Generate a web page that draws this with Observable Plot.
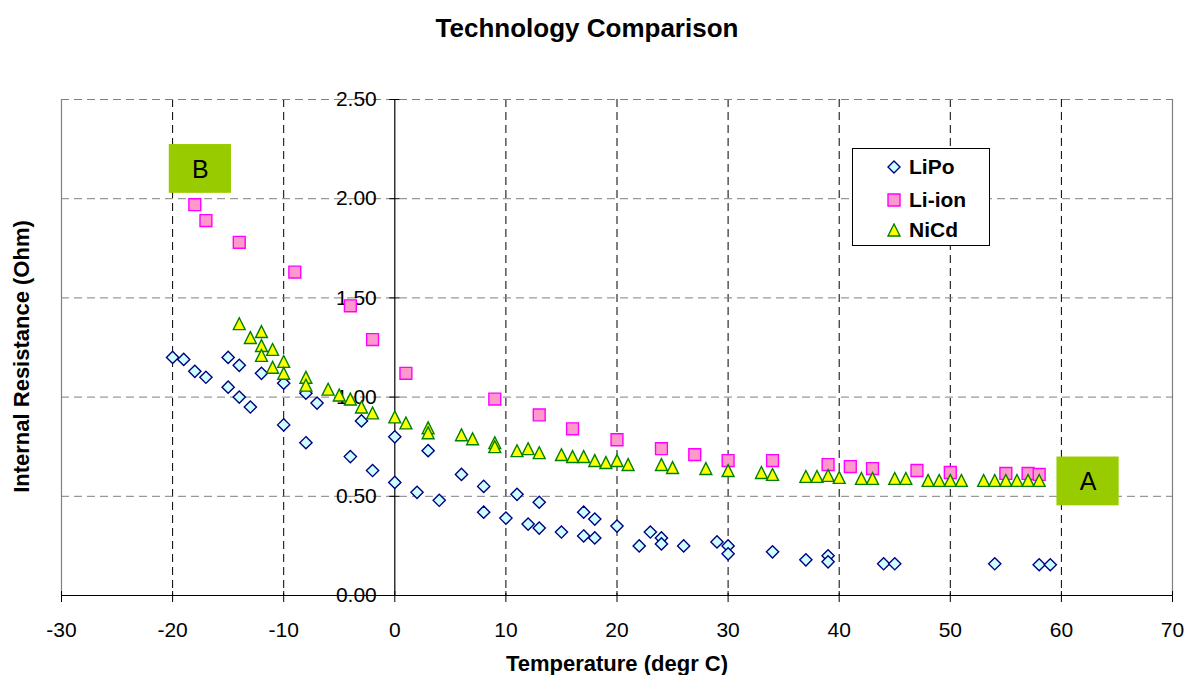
<!DOCTYPE html>
<html><head><meta charset="utf-8">
<script src="https://cdn.jsdelivr.net/npm/d3@7"></script>
<script src="https://cdn.jsdelivr.net/npm/@observablehq/plot@0.6"></script>
<style>
body{margin:0;background:#fff;font-family:"Liberation Sans",Arial,sans-serif;}
#wrap{position:relative;width:1189px;height:675px;overflow:hidden;}
#legend{position:absolute;left:852px;top:148px;width:138px;height:98px;border:1px solid #000;background:#fff;box-sizing:border-box;}
.row{position:absolute;left:0;height:30px;display:flex;align-items:center;font-weight:bold;font-size:21px;color:#000;}
.row svg{margin-left:34px;margin-right:8px;}
</style></head><body><div id="wrap"><div id="legend"></div></div>
<script>
// ---- data ----
const title = "Technology Comparison";
const xLabel = "Temperature (degr C)";
const yLabel = "Internal Resistance (Ohm)";
const seriesNames = ["LiPo", "Li-ion", "NiCd"];

const lipoTemp = [-20,-19,-18,-17,-15,-14,-15,-14,-13,-12,-10,-10,-8,-7,-8,-4,-3,-2,0,0,2,3,4,6,8,8,10,11,12,13,13,15,17,17,18,18,20,22,23,24,24,26,29,30,30,34,37,39,39,44,45,54,58,59];
const lipoOhm  = [1.20,1.19,1.13,1.10,1.20,1.16,1.05,1.00,0.95,1.12,1.07,0.86,1.02,0.97,0.77,0.70,0.88,0.63,0.80,0.57,0.52,0.73,0.48,0.61,0.55,0.42,0.39,0.51,0.36,0.47,0.34,0.32,0.42,0.30,0.385,0.29,0.35,0.25,0.32,0.29,0.26,0.25,0.27,0.25,0.21,0.22,0.18,0.20,0.17,0.16,0.16,0.16,0.155,0.155];

const lionTemp = [-18,-17,-14,-9,-4,-2,1,9,13,16,20,24,27,30,34,39,41,43,47,50,55,57,58];
const lionOhm  = [1.97,1.89,1.78,1.63,1.46,1.29,1.12,0.99,0.91,0.84,0.785,0.74,0.71,0.68,0.68,0.66,0.65,0.64,0.63,0.62,0.615,0.615,0.61];

const nicdTemp = [-14,-13,-12,-12,-11,-12,-11,-10,-10,-8,-8,-6,-5,-4,-3,-2,0,1,3,3,6,7,9,9,11,12,13,15,16,17,18,19,20,21,24,25,28,30,33,34,37,38,39,40,42,43,45,46,48,49,50,51,53,54,55,56,57,58];
const nicdOhm  = [1.37,1.30,1.33,1.26,1.24,1.21,1.15,1.18,1.12,1.10,1.06,1.04,1.01,0.99,0.95,0.92,0.90,0.87,0.845,0.82,0.81,0.79,0.77,0.75,0.73,0.74,0.72,0.71,0.70,0.70,0.68,0.67,0.68,0.66,0.66,0.645,0.64,0.63,0.62,0.61,0.60,0.60,0.605,0.595,0.59,0.59,0.59,0.59,0.58,0.58,0.58,0.58,0.58,0.58,0.58,0.58,0.58,0.58];

const xTicks = [-30,-20,-10,0,10,20,30,40,50,60,70];
const yTicks = [0,0.5,1,1.5,2,2.5];

const annoText = ["B", "A"];
const annoX = [-17.5, 62.4];
const annoY = [2.15, 0.575];

// ---- styles ----
const W = 1189, H = 675, mL = 61, mR = 17, mT = 99, mB = 80;
const styles = {
  "LiPo":   {fill: "#CCFFFF", stroke: "#000080"},
  "Li-ion": {fill: "#FF99CC", stroke: "#FF00FF"},
  "NiCd":   {fill: "#FFFF00", stroke: "#008000"}
};
const diamondSym = {draw(c, s){ const h = Math.sqrt(s)/2; c.moveTo(0,-h); c.lineTo(h,0); c.lineTo(0,h); c.lineTo(-h,0); c.closePath(); }};
const squareSym  = {draw(c, s){ const h = Math.sqrt(s)/2; c.rect(-h,-h,2*h,2*h); }};
const triSym     = {draw(c, s){ const h = Math.sqrt(s)/2; c.moveTo(0,-h); c.lineTo(h,h); c.lineTo(-h,h); c.closePath(); }};

const toRows = (xs, ys) => xs.map((x, i) => ({x, y: ys[i]}));
const lipo = toRows(lipoTemp, lipoOhm);
const lion = toRows(lionTemp, lionOhm);
const nicd = toRows(nicdTemp, nicdOhm);
const annos = annoText.map((t, i) => ({t, x: annoX[i], y: annoY[i]}));

const xDomain = [-30, 70];
const x0px = mL + (0 - xDomain[0]) / (xDomain[1] - xDomain[0]) * (W - mL - mR);
const font = "'Liberation Sans', Arial, sans-serif";

const chart = Plot.plot({
  width: W, height: H,
  marginLeft: mL, marginRight: mR, marginTop: mT, marginBottom: mB,
  style: {fontFamily: font, background: "#fff", overflow: "visible"},
  x: {domain: xDomain},
  y: {domain: [0, 2.5]},
  marks: [
    Plot.gridX(xTicks.filter(d => d > -30 && d < 70 && d !== 0), {stroke: "#000", strokeOpacity: 1, strokeDasharray: "8,5"}),
    Plot.gridY(yTicks.filter(d => d > 0), {stroke: "#808080", strokeOpacity: 1, strokeDasharray: "8,5"}),
    Plot.ruleX([xDomain[0], xDomain[1]], {stroke: "#808080", strokeWidth: 1.2}),
    Plot.ruleY([0], {stroke: "#000", strokeWidth: 1.2}),
    Plot.ruleX([0], {stroke: "#000", strokeWidth: 1.2}),
    Plot.axisX(xTicks, {tickFormat: d => String(d), tickSize: 11, dy: -4, tickPadding: 20, fontSize: 21, label: null, stroke: "#000", fill: "#000"}),
    Plot.axisY(yTicks, {tickFormat: d3.format(".2f"), tickSize: 10, dx: x0px - mL + 5, tickPadding: 13, fontSize: 21, label: null, stroke: "#000", fill: "#000"}),
    Plot.dot(lipo, {x: "x", y: "y", symbol: diamondSym, r: 6.9, fill: styles["LiPo"].fill, stroke: styles["LiPo"].stroke, strokeWidth: 1.4}),
    Plot.dot(lion, {x: "x", y: "y", symbol: squareSym, r: 6.7, fill: styles["Li-ion"].fill, stroke: styles["Li-ion"].stroke, strokeWidth: 1.4}),
    Plot.dot(nicd, {x: "x", y: "y", symbol: triSym, r: 6.7, fill: styles["NiCd"].fill, stroke: styles["NiCd"].stroke, strokeWidth: 1.4}),
    Plot.rect(annos, {x1: d => d.x - 2.8, x2: d => d.x + 2.8, y1: d => d.y - 0.123, y2: d => d.y + 0.123, fill: "#99CC00"}),
    Plot.text(annos, {x: "x", y: "y", text: "t", fontSize: 25, fill: "#000", dy: 1}),
    Plot.text([title], {frameAnchor: "top", lineAnchor: "bottom", textAnchor: "middle", dx: -30, dy: -63, fontSize: 26, fontWeight: "bold", fill: "#000"}),
    Plot.text([xLabel], {frameAnchor: "bottom", lineAnchor: "bottom", textAnchor: "middle", dy: 75, fontSize: 22, fontWeight: "bold", fill: "#000"}),
    Plot.text([yLabel], {frameAnchor: "left", lineAnchor: "bottom", textAnchor: "middle", rotate: -90, dx: -33, dy: 9, fontSize: 22, fontWeight: "bold", fill: "#000"})
  ]
});
document.getElementById("wrap").prepend(chart);

// legend
const legend = document.getElementById("legend");
const symPaths = {
  "LiPo": "M7,1 L13,7 L7,13 L1,7 Z",
  "Li-ion": "M1,1 H13 V13 H1 Z",
  "NiCd": "M7,1 L13,13 L1,13 Z"
};
const rowTops = [3, 36, 66];
seriesNames.forEach((name, i) => {
  const row = document.createElement("div");
  row.className = "row";
  row.style.top = rowTops[i] + "px";
  row.innerHTML = `<svg width="14" height="14" viewBox="0 0 14 14"><path d="${symPaths[name]}" fill="${styles[name].fill}" stroke="${styles[name].stroke}" stroke-width="1.4"/></svg><span>${name}</span>`;
  legend.appendChild(row);
});
</script>
</body></html>
